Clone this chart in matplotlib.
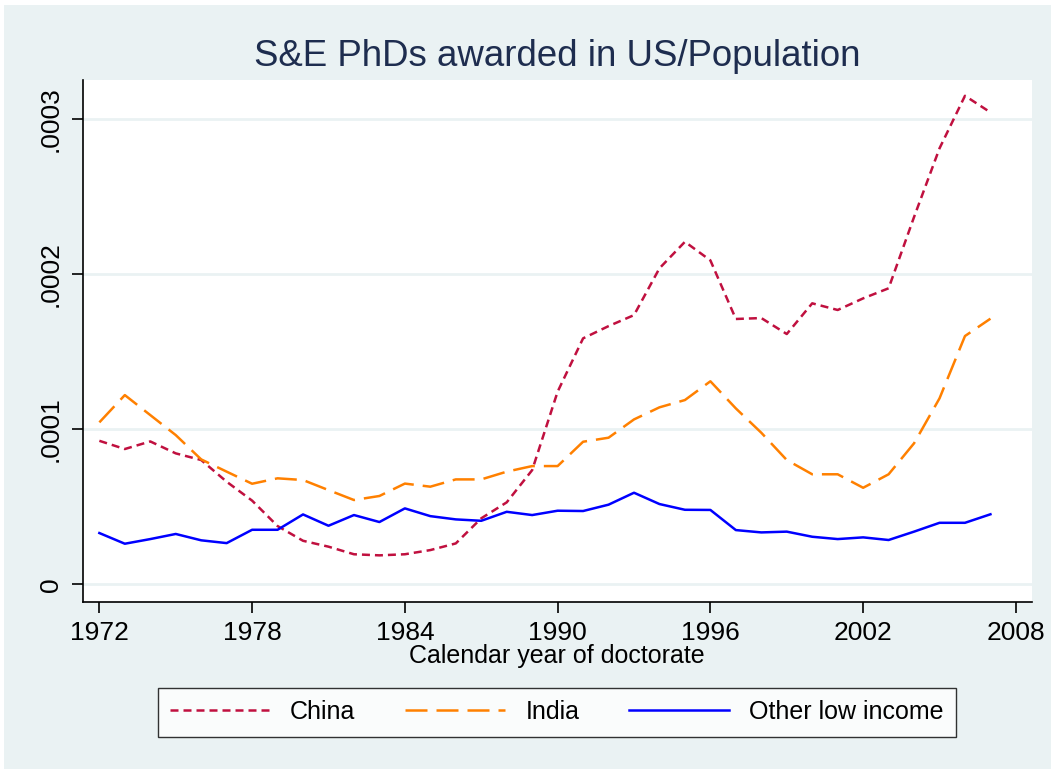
import matplotlib.pyplot as plt
from matplotlib.patches import Rectangle

plt.rcParams['font.family'] = ['Liberation Sans', 'DejaVu Sans']

years = list(range(1972, 2008))

# values (per capita)
china = [0.926, 0.873, 0.922, 0.845, 0.802, 0.662, 0.54, 0.376, 0.281, 0.243,
         0.194, 0.187, 0.194, 0.221, 0.264, 0.426, 0.529, 0.737, 1.243, 1.587,
         1.666, 1.737, 2.039, 2.21, 2.09, 1.712, 1.718, 1.615, 1.813, 1.77,
         1.845, 1.91, 2.37, 2.813, 3.152, 3.045]
india = [1.045, 1.221, 1.092, 0.963, 0.806, 0.727, 0.649, 0.684, 0.673, 0.608,
         0.544, 0.57, 0.65, 0.63, 0.677, 0.677, 0.727, 0.763, 0.763, 0.92,
         0.946, 1.064, 1.142, 1.189, 1.31, 1.135, 0.978, 0.802, 0.71, 0.71,
         0.623, 0.71, 0.91, 1.2, 1.602, 1.714]
other = [0.331, 0.262, 0.292, 0.325, 0.284, 0.266, 0.352, 0.352, 0.451, 0.378,
         0.447, 0.402, 0.49, 0.44, 0.419, 0.41, 0.468, 0.447, 0.475, 0.473,
         0.514, 0.591, 0.518, 0.481, 0.48, 0.35, 0.335, 0.34, 0.307, 0.292,
         0.303, 0.286, 0.34, 0.397, 0.397, 0.452]
scale = 1e-4

xticks = [1972, 1978, 1984, 1990, 1996, 2002, 2008]
yticks = [0, 0.0001, 0.0002, 0.0003]
ylabels = ['0', '.0001', '.0002', '.0003']

bg = '#EAF2F3'
fig = plt.figure(figsize=(10.53, 7.72), dpi=100, facecolor='white')
fig.patches.append(Rectangle((4 / 1053, 3 / 772), 1047 / 1053, 764 / 772,
                             transform=fig.transFigure, facecolor=bg,
                             edgecolor='none', zorder=-10))

ax = fig.add_axes([0.0784, 0.2202, 0.9016, 0.6762])
ax.set_facecolor('white')

ax.plot(years, [v * scale for v in china], color='#C0103F', lw=1.8,
        dashes=(3.2, 2.0), label='China')
ax.plot(years, [v * scale for v in india], color='#FF8000', lw=1.8,
        dashes=(8.8, 3.6), label='India')
ax.plot(years, [v * scale for v in other], color='#0000FF', lw=1.8,
        label='Other low income')

ax.set_xlim(1971.34, 2008.63)
ax.set_ylim(-0.0000114, 0.0003254)
ax.set_xticks(xticks)
ax.set_yticks(yticks)
ax.set_yticklabels(ylabels, rotation=90, va='center')
ax.tick_params(labelsize=19, length=8, width=1.2, pad=6)
ax.yaxis.grid(True, color=bg, lw=2)
ax.set_axisbelow(True)
for s in ['top', 'right']:
    ax.spines[s].set_visible(False)
for s in ['left', 'bottom']:
    ax.spines[s].set_linewidth(1.2)

ax.set_xlabel('Calendar year of doctorate', fontsize=18, labelpad=-1)
fig.text(0.529, 0.927, 'S&E PhDs awarded in US/Population', fontsize=26.4,
         color='#1E2D4F', ha='center', va='center')

leg = fig.legend(loc='center', bbox_to_anchor=(0.529, 0.0777), ncol=3,
                 fontsize=18, handlelength=4, frameon=True, fancybox=False,
                 edgecolor='black', columnspacing=2.0, handletextpad=0.8,
                 borderpad=0.5)
leg.get_frame().set_linewidth(1.0)

fig.savefig('out.png', dpi=100, facecolor=fig.get_facecolor())
